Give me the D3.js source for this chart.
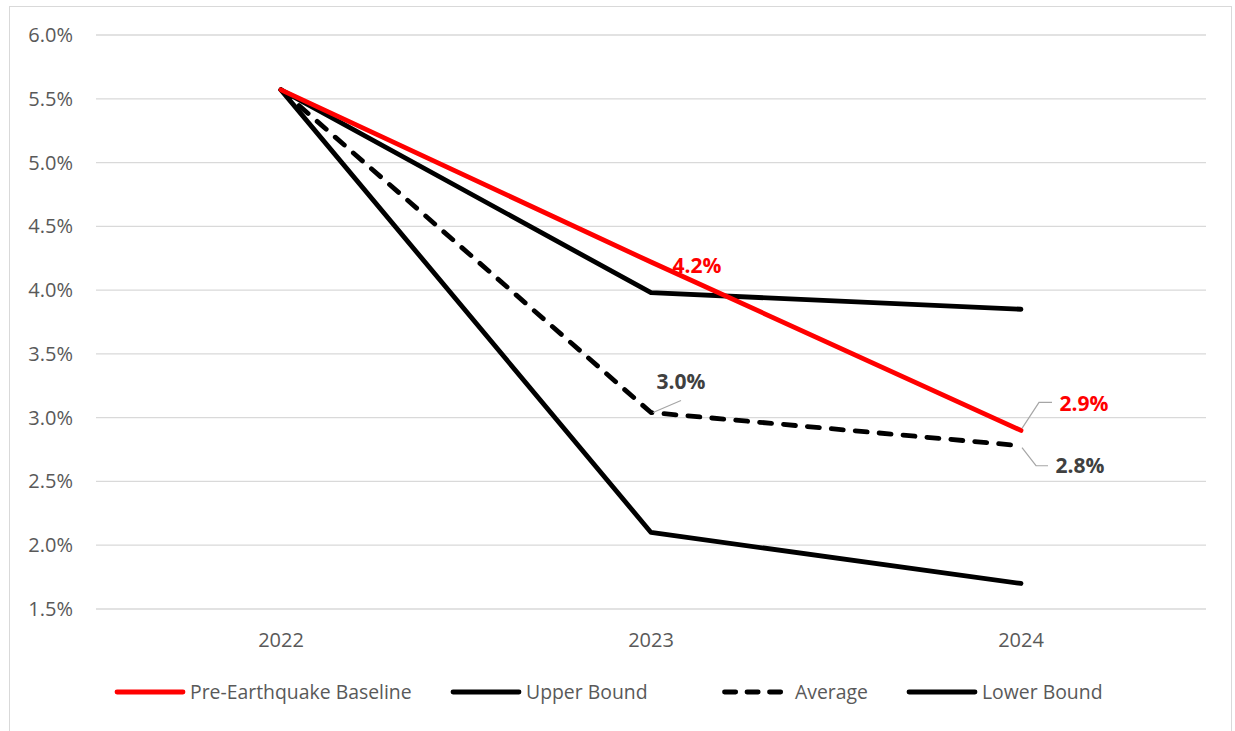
<!DOCTYPE html>
<html><head><meta charset="utf-8">
<script src="https://cdn.jsdelivr.net/npm/d3@7"></script>
<style>body{margin:0;background:#fff}svg{display:block;font-family:"Open Sans",sans-serif}</style>
</head><body><svg id="c" width="1235" height="731"></svg>
<script>
const years = ["2022","2023","2024"];
const baseline = [5.57, 4.22, 2.90];
const upper = [5.57, 3.98, 3.85];
const average = [5.57, 3.04, 2.78];
const lower = [5.57, 2.10, 1.70];
const yTicks = [1.5,2.0,2.5,3.0,3.5,4.0,4.5,5.0,5.5,6.0];
const seriesNames = ["Pre-Earthquake Baseline","Upper Bound","Average","Lower Bound"];

const svg = d3.select("#c");
svg.append("rect").attr("x",9.5).attr("y",6.5).attr("width",1222).attr("height",740)
  .attr("fill","#fff").attr("stroke","#d9d9d9");

const x = d3.scalePoint().domain(years).range([281,1021]);
const y = d3.scaleLinear().domain([1.5,6.0]).range([609,35]);

const g = svg.append("g");
g.selectAll("line.grid").data(yTicks).join("line")
  .attr("x1",96).attr("x2",1206).attr("y1",d=>y(d)).attr("y2",d=>y(d))
  .attr("stroke","#d9d9d9").attr("stroke-width",1.3);
g.selectAll("text.yt").data(yTicks).join("text")
  .attr("x",73).attr("y",d=>y(d)).attr("dy","0.35em").attr("text-anchor","end")
  .attr("font-size",20).attr("fill","#595959").text(d=>d.toFixed(1)+"%");
g.selectAll("text.xt").data(years).join("text")
  .attr("x",d=>x(d)).attr("y",640).attr("dy","0.35em").attr("text-anchor","middle")
  .attr("font-size",20).attr("fill","#595959").text(d=>d);

const line = d3.line().x((d,i)=>x(years[i])).y(d=>y(d));
const series = [
  {vals:lower,color:"#000",dash:null},
  {vals:average,color:"#000",dash:"12,12"},
  {vals:upper,color:"#000",dash:null},
  {vals:baseline,color:"#ff0000",dash:null}
];
series.forEach(s=>{
  g.append("path").attr("d",line(s.vals)).attr("fill","none")
   .attr("stroke",s.color).attr("stroke-width",4.8)
   .attr("stroke-linejoin","round").attr("stroke-linecap","round")
   .attr("stroke-dasharray",s.dash);
});

// data labels
const lab = (tx,ty,txt,col)=>g.append("text").attr("x",tx).attr("y",ty).attr("dy","0.35em")
  .attr("text-anchor","middle").attr("font-size",21).attr("font-weight","bold").attr("fill",col).text(txt);
lab(x("2023")+46, y(baseline[1])+4, baseline[1].toFixed(1)+"%", "#ff0000");
lab(x("2023")+30, y(average[1])-31, average[1].toFixed(1)+"%", "#404040");
lab(x("2024")+63, y(baseline[2])-27, baseline[2].toFixed(1)+"%", "#ff0000");
lab(x("2024")+59, y(average[2])+20, average[2].toFixed(1)+"%", "#404040");
const lead = pts=>g.append("polyline").attr("points",pts.map(p=>p.join(",")).join(" "))
  .attr("fill","none").attr("stroke","#a6a6a6").attr("stroke-width",1.2);
lead([[x("2023")+2,y(average[1])],[x("2023")+30,y(average[1])-12]]);
lead([[x("2024")+1,y(baseline[2])-2],[x("2024")+18,y(baseline[2])-28],[x("2024")+31,y(baseline[2])-28]]);
lead([[x("2024")+1,y(average[2])+2],[x("2024")+15,y(average[2])+20],[x("2024")+27,y(average[2])+20]]);

// legend
const legX = [117,453,722,909];
const legColors = ["#ff0000","#000","#000","#000"];
const lg = svg.append("g");
seriesNames.forEach((n,i)=>{
  const lx = legX[i];
  if(i===2){
    lg.append("line").attr("x1",lx+2.5).attr("x2",lx+59).attr("y1",692).attr("y2",692)
      .attr("stroke","#000").attr("stroke-width",4.8).attr("stroke-linecap","round").attr("stroke-dasharray","11.2,11.3");
  } else {
    lg.append("line").attr("x1",lx).attr("x2",lx+66).attr("y1",692).attr("y2",692)
      .attr("stroke",legColors[i]).attr("stroke-width",4.8).attr("stroke-linecap","round");
  }
  lg.append("text").attr("x",lx+73).attr("y",692).attr("dy","0.35em").attr("font-size",19.4).attr("fill","#595959").text(n);
});
</script></body></html>
